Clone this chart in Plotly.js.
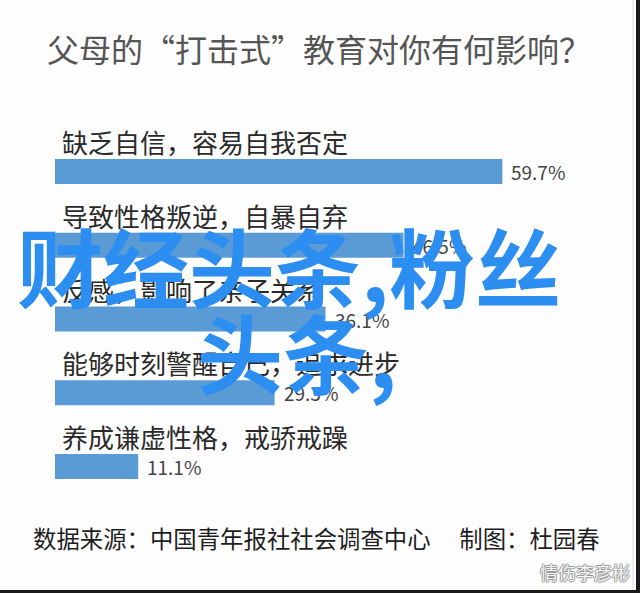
<!DOCTYPE html>
<html>
<head>
<meta charset="utf-8">
<script src="https://cdn.plot.ly/plotly-3.0.1.min.js"></script>
<style>
  html, body { margin: 0; padding: 0; background: #fdfdfd; }
  #chart { width: 640px; height: 593px; }
</style>
</head>
<body>
<div id="chart"></div>
<script>
// ---- data ----
const categories = [
  "缺乏自信，容易自我否定",
  "导致性格叛逆，自暴自弃",
  "反感，影响了亲子关系",
  "能够时刻警醒自己，追求进步",
  "养成谦虚性格，戒骄戒躁"
];
const values = [59.7, 46.5, 36.1, 29.3, 11.1];
const valueLabels = ["59.7%", "46.5%", "36.1%", "29.3%", "11.1%"];
const titleText = "父母的“打击式”教育对你有何影响？";
const sourceText = "数据来源：中国青年报社社会调查中心　 制图：杜园春";
const watermarkLine1 = "财经头条,粉丝";
const watermarkLine2 = "头条,";
const signature = "情伤李彦彬";

// ---- layout geometry ----
const W = 640, H = 593;
const mL = 55, mR = 23, mT = 61, mB = 16;
const plotW = W - mL - mR, plotH = H - mT - mB;
const px2x = px => (px - mL) / plotW;
const py2y = py => (H - mB - py) / plotH;

const cjk = '"Noto Sans CJK SC", "Noto Sans", sans-serif';
const barColor = '#5b9bd5';
const wmColor = '#2b8ef0';

const trace = {
  type: 'bar',
  orientation: 'h',
  y: categories,
  x: values,
  width: 0.34,
  marker: { color: barColor },
  hoverinfo: 'skip'
};

const annotations = [];
categories.forEach((c, i) => {
  annotations.push({
    xref: 'x', yref: 'y', x: 0, y: c,
    xanchor: 'left', yanchor: 'middle', xshift: 5, yshift: 30,
    text: c, showarrow: false,
    font: { family: cjk, size: 26, color: '#2a2a2a' }
  });
  annotations.push({
    xref: 'x', yref: 'y', x: values[i], y: c,
    xanchor: 'left', yanchor: 'middle', xshift: 7, yshift: 0,
    text: valueLabels[i], showarrow: false,
    font: { family: cjk, size: 19, color: '#444' }
  });
});
// footer
annotations.push({
  xref: 'paper', yref: 'paper', x: px2x(316), y: py2y(538),
  xanchor: 'center', yanchor: 'middle',
  text: sourceText, showarrow: false,
  font: { family: cjk, size: 23.4, color: '#1e1e1e' }
});
// signature
annotations.push({
  xref: 'paper', yref: 'paper', x: px2x(632), y: py2y(572),
  xanchor: 'right', yanchor: 'middle',
  text: signature, showarrow: false,
  font: { family: cjk, size: 18, color: '#f4f4f4', shadow: '1px 0 0 #999, -1px 0 0 #999, 0 1px 0 #999, 0 -1px 0 #999' }
});
// watermark overlay
annotations.push({
  xref: 'paper', yref: 'paper', x: px2x(289), y: py2y(264),
  xanchor: 'center', yanchor: 'middle',
  text: watermarkLine1, showarrow: false,
  font: { family: cjk, size: 86, color: wmColor, weight: 700 }
});
annotations.push({
  xref: 'paper', yref: 'paper', x: px2x(297), y: py2y(350),
  xanchor: 'center', yanchor: 'middle',
  text: watermarkLine2, showarrow: false,
  font: { family: cjk, size: 86, color: wmColor, weight: 700 }
});

const shapes = [
  { type: 'rect', xref: 'paper', yref: 'paper', x0: px2x(636), x1: px2x(641), y0: py2y(0), y1: py2y(594),
    fillcolor: '#1a1a1a', line: { width: 0 } },
  { type: 'rect', xref: 'paper', yref: 'paper', x0: px2x(0), x1: px2x(641), y0: py2y(590), y1: py2y(594),
    fillcolor: '#1a1a1a', line: { width: 0 } },
  { type: 'line', xref: 'paper', yref: 'paper', x0: px2x(633), x1: px2x(633), y0: py2y(0), y1: py2y(590),
    line: { color: '#dddddd', width: 1 } }
];

const layout = {
  width: W, height: H,
  margin: { l: mL, r: mR, t: mT, b: mB, pad: 0 },
  paper_bgcolor: '#fdfdfd',
  plot_bgcolor: 'rgba(0,0,0,0)',
  showlegend: false,
  title: {
    text: titleText,
    xref: 'container', yref: 'container',
    x: 319 / W, y: 1 - 51 / H, xanchor: 'center', yanchor: 'middle',
    font: { family: cjk, size: 32, color: '#555' }
  },
  xaxis: { range: [0, 75], visible: false, fixedrange: true },
  yaxis: { type: 'category', range: [5.5, -1.5], visible: false, fixedrange: true },
  annotations: annotations,
  shapes: shapes
};

Plotly.newPlot('chart', [trace], layout, { displayModeBar: false, staticPlot: true });
</script>
</body>
</html>
